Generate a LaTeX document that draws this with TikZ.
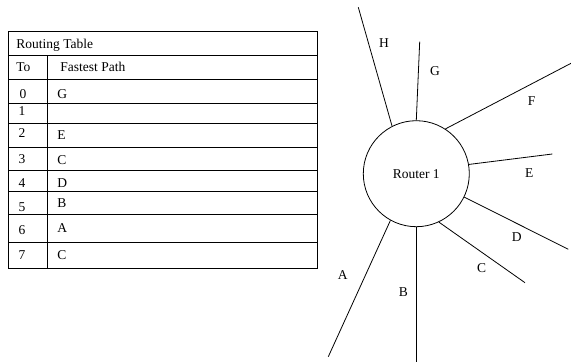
\documentclass[tikz,border=0pt]{standalone}
\usepackage{fontspec}
\setmainfont{Liberation Serif}
\begin{document}
\begin{tikzpicture}[x=1pt,y=-1pt,
  line width=0.8pt,
  txt/.style={inner sep=0pt,anchor=base west,font=\fontsize{13.5}{16}\selectfont},
  num/.style={inner sep=0pt,anchor=base,font=\fontsize{13.5}{16}\selectfont},
  lbl/.style={inner sep=0pt,font=\fontsize{13.5}{16}\selectfont},
  hub/.style={draw,circle,minimum size=106pt,inner sep=0pt,font=\fontsize{13.5}{16}\selectfont},
  spoke/.style={draw,line width=0.8pt}]
\useasboundingbox (0,0) rectangle (571,362);

% routing table frame and rules
\draw (8,31) rectangle (317,268);
\foreach \yy in {55,79,103,123,147,170,191,214,242}
  \draw (8,\yy) -- (317,\yy);
\draw (47,55) -- (47,268);

% table text
\node[txt] (title) at (16,48.5) {Routing Table};
\node[txt] (hto) at (16,71.5) {To};
\node[txt] (hpath) at (60,71.5) {Fastest Path};
\node[num] (n0) at (23,98) {0};
\node[txt] (p0) at (57,98) {G};
\node[num] (n1) at (22,115.5) {1};
\node[num] (n2) at (22,137) {2};
\node[txt] (p2) at (57,139.5) {E};
\node[num] (n3) at (22,163.5) {3};
\node[txt] (p3) at (57,164) {C};
\node[num] (n4) at (22,187) {4};
\node[txt] (p4) at (57,187.5) {D};
\node[num] (n5) at (22,211.5) {5};
\node[txt] (p5) at (57,207.5) {B};
\node[num] (n6) at (22,234.5) {6};
\node[txt] (p6) at (57,232.5) {A};
\node[num] (n7) at (22,259.5) {7};
\node[txt] (p7) at (57,259.5) {C};

% router and its links
\node[hub] (router) at (416.3,173.7) {Router 1};

\coordinate (endH) at (358.3,7.3);
\coordinate (endG) at (419.7,41.7);
\coordinate (endF) at (571,63.3);
\coordinate (endE) at (552.3,154);
\coordinate (endD) at (568.3,249.3);
\coordinate (endC) at (525,282.7);
\coordinate (endB) at (416.3,361.7);
\coordinate (endA) at (328.3,356.7);

\draw[spoke] (router.117.6) -- (endH);
\draw[spoke] (router.90) -- (endG);
\draw[spoke] (router.57) -- (endF);
\draw[spoke] (router.10.8) -- (endE);
\draw[spoke] (router.-26) -- (endD);
\draw[spoke] (router.-65.2) -- (endC);
\draw[spoke] (router.-90) -- (endB);
\draw[spoke] (router.-119.6) -- (endA);

% link labels
\node[lbl] (lH) at (384,43.3) {H};
\node[lbl] (lG) at (435,71) {G};
\node[lbl] (lF) at (531.7,101) {F};
\node[lbl] (lE) at (529.3,172.7) {E};
\node[lbl] (lD) at (516.7,237.3) {D};
\node[lbl] (lC) at (481.7,268.3) {C};
\node[lbl] (lB) at (403.3,291.7) {B};
\node[lbl] (lA) at (342.7,275) {A};
\end{tikzpicture}
\end{document}
